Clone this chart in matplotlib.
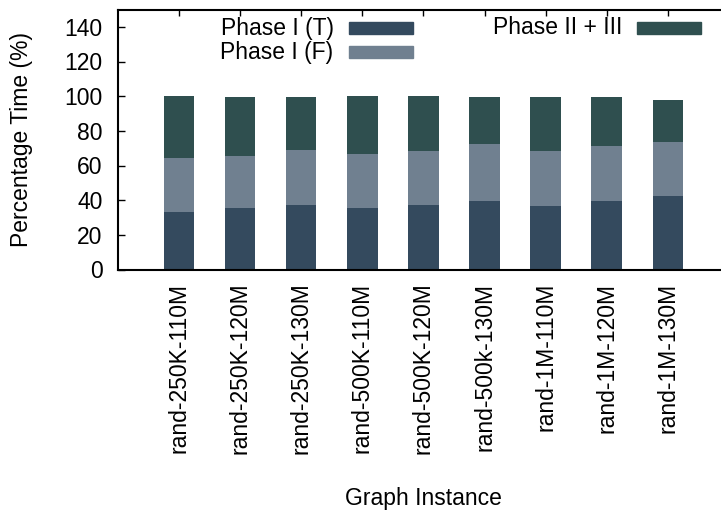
import matplotlib
matplotlib.use("Agg")
import matplotlib.pyplot as plt
import numpy as np

categories = ["rand-250K-110M", "rand-250K-120M", "rand-250K-130M",
              "rand-500K-110M", "rand-500K-120M", "rand-500k-130M",
              "rand-1M-110M", "rand-1M-120M", "rand-1M-130M"]
phase1_t = [33.2, 35.5, 37.2, 35.5, 37.2, 39.5, 36.6, 39.5, 42.4]
phase1_f = [31.1, 30.0, 31.8, 31.1, 31.2, 32.9, 31.8, 31.8, 31.2]
phase23 = [35.8, 34.0, 30.5, 33.4, 31.6, 27.1, 31.1, 28.2, 24.2]
series_names = ["Phase I (T)", "Phase I (F)", "Phase II + III"]
colors = ["#344a5e", "#708090", "#2f4f4f"]
yticks = [0, 20, 40, 60, 80, 100, 120, 140]

plt.rcParams['font.family'] = ['Liberation Sans', 'DejaVu Sans']
FS = 16.5
W, H = 721, 516
fig = plt.figure(figsize=(W/100, H/100), dpi=100)
L, R, T, B = 117.8, 729.0, 9.5, 269.5
ax = fig.add_axes([L/W, 1-B/H, (R-L)/W, (B-T)/H])

x = np.arange(len(categories))
b1 = np.array(phase1_t)
b2 = b1 + np.array(phase1_f)
ax.bar(x, phase1_t, width=0.5, color=colors[0], zorder=2)
ax.bar(x, phase1_f, width=0.5, bottom=b1, color=colors[1], zorder=2)
ax.bar(x, phase23, width=0.5, bottom=b2, color=colors[2], zorder=2)

ax.set_xlim(-1.0, 9.0)
ax.set_ylim(0, 150)
ax.set_yticks(yticks)
ax.set_xticks(x)
ax.set_xticklabels(categories, rotation=90, fontsize=FS)
ax.tick_params(axis='y', direction='in', length=5, width=1, pad=11, labelsize=FS, right=False)
ax.tick_params(axis='x', direction='in', length=4, width=1, pad=9.5, top=True, bottom=True)
for s in ax.spines.values():
    s.set_linewidth(1.5)

ax.set_ylabel("Percentage Time (%)", fontsize=FS)
ax.yaxis.set_label_coords((22-L)/(R-L), 0.5)
ax.set_xlabel("Graph Instance", fontsize=FS)
ax.xaxis.set_label_coords((423-L)/(R-L), 1-(499-T)/(B-T))
ax.xaxis.label.set_va('center')
ax.yaxis.label.set_va('center')

# legend (gnuplot style: text then sample)
def px(xp, yp):
    return xp/W, 1-yp/H
legend_items = [(series_names[0], colors[0], 333.6, 349, 28),
                (series_names[1], colors[1], 333.6, 349, 52),
                (series_names[2], colors[2], 622.6, 637, 28)]
for name, c, tx, sx, yy in legend_items:
    fx, fy = px(tx, yy)
    fig.text(fx, fy, name, ha='right', va='center', fontsize=FS)
    rx, ry = px(sx, yy+5.75)
    fig.patches.append(plt.Rectangle((rx, ry), 64/W, 11.5/H, transform=fig.transFigure,
                                     color=c, figure=fig))

fig.savefig("out.png", dpi=100)
